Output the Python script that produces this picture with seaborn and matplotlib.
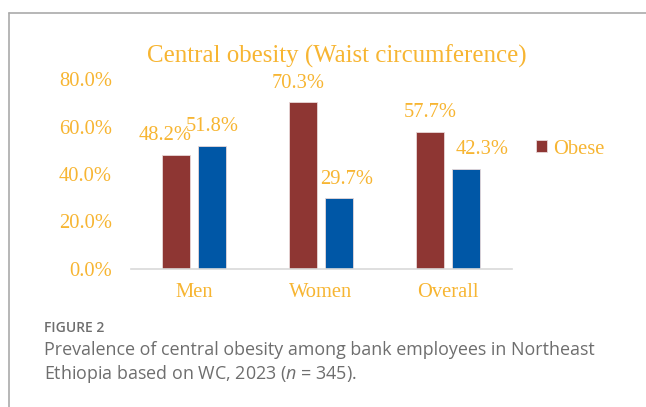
import matplotlib
matplotlib.use("Agg")
import matplotlib.pyplot as plt
import seaborn as sns
import pandas as pd
from matplotlib.lines import Line2D

# ---- data ----
categories = ["Men", "Women", "Overall"]
obese = [48.2, 70.3, 57.7]
non_obese = [51.8, 29.7, 42.3]
status_labels = ["Obese", "Non-obese"]
y_ticks = [0, 20, 40, 60, 80]

title = "Central obesity (Waist circumference)"
caption_head = "FIGURE 2"
caption_lines = ["Prevalence of central obesity among bank employees in Northeast",
                 "Ethiopia based on WC, 2023 ($n$ = 345)."]

# ---- style ----
GOLD = "#F7B532"
RED = "#8E3633"
BLUE = "#0057A6"
GREY_TXT = "#6e6e6e"
SERIF = "Liberation Serif"
SANS = "Open Sans"
FS = 14.8

sns.set_theme(style="white")
plt.rcParams["font.family"] = [SERIF, "DejaVu Serif"]
plt.rcParams["mathtext.fontset"] = "custom"
plt.rcParams["mathtext.it"] = "Open Sans:italic"
plt.rcParams["mathtext.rm"] = "Open Sans"

df = pd.DataFrame({
    "category": categories * 2,
    "status": [status_labels[0]] * 3 + [status_labels[1]] * 3,
    "value": obese + non_obese,
})

fig = plt.figure(figsize=(6.46, 4.07), dpi=100)
W, H = 646, 407
ax = fig.add_axes([130.5 / W, 1 - 269 / H, 381 / W, 190 / H])

sns.barplot(data=df, x="category", y="value", hue="status",
            palette=[RED, BLUE], saturation=1, width=0.567, gap=0.21,
            edgecolor="#e8d8d8", linewidth=0.6, legend=False, ax=ax)

ax.set_xlim(-0.5, 2.5)
ax.set_ylim(0, 80)
ax.set_yticks(y_ticks)
ax.set_yticklabels([f"{v:.1f}%" for v in y_ticks])
ax.set_xlabel("")
ax.set_ylabel("")
for s in ["top", "right", "left"]:
    ax.spines[s].set_visible(False)
ax.spines["bottom"].set_color("#d9d9d9")
ax.spines["bottom"].set_linewidth(1.2)
ax.tick_params(axis="y", length=0, pad=13.3, labelsize=FS, labelcolor=GOLD)
ax.tick_params(axis="x", length=0, pad=10, labelsize=FS, labelcolor=GOLD)
for t in ax.get_xticklabels() + ax.get_yticklabels():
    t.set_fontfamily(SERIF)

# data labels (nudged like the original Excel labels)
label_dx = [[-11, -5, 0], [0, 8, 16.5]]
for ci, cont in enumerate(ax.containers):
    for bi, bar in enumerate(cont.patches):
        h = bar.get_height()
        ax.annotate(f"{h:.1f}%", xy=(bar.get_x() + bar.get_width() / 2, h),
                    xytext=(label_dx[ci][bi], 19), textcoords="offset pixels",
                    ha="center", va="center", fontsize=FS, color=GOLD,
                    family=SERIF, annotation_clip=False)

# title
fig.text(337 / W, 1 - 63 / H, title, ha="center", va="baseline",
         fontsize=17.9, color=GOLD, family=SERIF)

# legend (only the first entry is visible in the original)
fig.legend(handles=[ax.containers[0].patches[0]], labels=[status_labels[0]],
           loc="center left", bbox_to_anchor=(536 / W, 1 - 149 / H),
           frameon=False, borderpad=0, borderaxespad=0,
           handlelength=0.55, handleheight=0.55, handletextpad=0.3,
           prop={"family": SERIF, "size": FS}, labelcolor=GOLD)

# frame lines
fig.add_artist(Line2D([9 / W, 9 / W], [0, 1 - 13 / H], color="#aaaaaa", lw=1.2))
fig.add_artist(Line2D([9 / W, 1], [1 - 13 / H, 1 - 13 / H], color="#aaaaaa", lw=1.2))

# caption
fig.text(44 / W, 1 - 328 / H, caption_head, ha="left", va="center",
         fontsize=10, fontweight="semibold", color=GREY_TXT, family=SANS)
fig.text(44 / W, 1 - 350 / H, caption_lines[0], ha="left", va="center",
         fontsize=12.9, color=GREY_TXT, family=SANS)
fig.text(44 / W, 1 - 374 / H, caption_lines[1], ha="left", va="center",
         fontsize=12.9, color=GREY_TXT, family=SANS)

fig.savefig("out.png", dpi=100)
